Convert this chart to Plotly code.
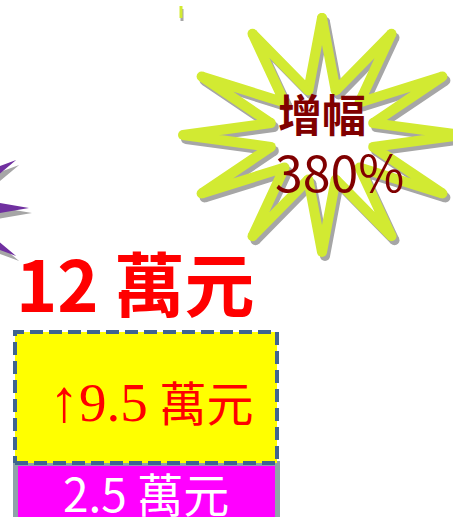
import numpy as np
import plotly.graph_objects as go

# ---- data ----
categories = [0]
base_values = [2.5]        # 2.5 萬元
increase_values = [9.5]    # ↑9.5 萬元
total_values = [b + i for b, i in zip(base_values, increase_values)]  # 12 萬元
growth_label = "380%"

base_text = ["2.5 萬元"]
increase_text = ["<span style='font-size:60px'>↑</span><span style='font-size:55px'>9.5</span> 萬元"]
total_text = ["12 萬元"]

W, H = 453, 517
fig = go.Figure()

# stacked bars (log y-axis so base segment runs off the bottom like the original)
fig.add_trace(go.Bar(x=categories, y=base_values, width=1, marker=dict(color="#FF00FF", line=dict(color="#8FA3A9", width=5)),
                     hoverinfo="skip", showlegend=False))
fig.add_trace(go.Bar(x=categories, y=increase_values, width=1, marker=dict(color="#FFFF00", line=dict(width=0)),
                     hoverinfo="skip", showlegend=False))
# dashed border of increase segment built from data
c = categories[0]
b0, t0 = base_values[0], total_values[0]
fig.add_trace(go.Scatter(x=[c - 0.5, c + 0.5, c + 0.5, c - 0.5, c - 0.5], y=[b0, b0, t0, t0, b0],
                         mode="lines", line=dict(color="#3F6590", width=4, dash="13px,6px"),
                         hoverinfo="skip", showlegend=False, cliponaxis=False))

# ---- decorative stars on overlay pixel axes ----
def star(cx, cy, rx, ry, rxi, ryi, n=12, rot=0.0):
    xs, ys = [], []
    for k in range(2 * n + 1):
        a = np.deg2rad(rot + k * 180.0 / n)
        if k % 2 == 0:
            xs.append(cx + rx * np.sin(a)); ys.append(cy - ry * np.cos(a))
        else:
            xs.append(cx + rxi * np.sin(a)); ys.append(cy - ryi * np.cos(a))
    return xs, ys

# purple star (left, mostly off-canvas)
px, py = star(-67, 208, 96, 96, 39, 39, rot=0)
fig.add_trace(go.Scatter(x=[v + 3 for v in px], y=[v + 5 for v in py], fill="toself", fillcolor="#A6A6A6",
                         mode="lines", line=dict(width=0, color="#A6A6A6"), xaxis="x2", yaxis="y2",
                         hoverinfo="skip", showlegend=False))
fig.add_trace(go.Scatter(x=px, y=py, fill="toself", fillcolor="#7030A0",
                         mode="lines", line=dict(width=0, color="#7030A0"), xaxis="x2", yaxis="y2",
                         hoverinfo="skip", showlegend=False))

# lime star outline
sx, sy = star(322, 135, 139, 117, 53, 46)
for dx, dy, col in [(3, 4, "#A6A6A6"), (0, 0, "#D2EA32")]:
    fig.add_trace(go.Scatter(x=[v + dx for v in sx], y=[v + dy for v in sy], mode="lines+markers",
                             line=dict(color=col, width=10), marker=dict(size=10, color=col),
                             xaxis="x2", yaxis="y2", hoverinfo="skip", showlegend=False))

# small lime tip at top-left
for dx, dy, col in [(1, 3, "#A6A6A6"), (0, 0, "#D2EA32")]:
    fig.add_trace(go.Scatter(x=[181 + dx, 181 + dx], y=[6 + dy, 18 + dy], mode="lines",
                             line=dict(color=col, width=3), xaxis="x2", yaxis="y2",
                             hoverinfo="skip", showlegend=False))

cjk = "Noto Sans CJK TC, Noto Sans, sans-serif"
serif = "Liberation Serif, Noto Sans CJK TC, serif"

annotations = [
    dict(x=c, y=np.log10(total_values[0]), xref="x", yref="y", text=total_text[0], showarrow=False,
         yanchor="bottom", xshift=-11, yshift=-2, font=dict(family=cjk, size=70, color="#FF0000", weight="bold")),
    dict(x=c, y=np.log10(base_values[0] * total_values[0]) / 2, xref="x", yref="y", text=increase_text[0],
         showarrow=False, xshift=5, yshift=-3, font=dict(family=serif, size=47, color="#FF0000")),
    dict(x=c, y=np.log10(base_values[0]), xref="x", yref="y", text=base_text[0], showarrow=False,
         yanchor="top", xshift=0, yshift=6, font=dict(family=cjk, size=46, color="#FFFFFF")),
    dict(x=322, y=113, xref="x2", yref="y2", text="增幅", showarrow=False,
         font=dict(family=cjk, size=44, color="#800000", weight="bold")),
    dict(x=339, y=170, xref="x2", yref="y2", text=growth_label, showarrow=False,
         font=dict(family=cjk, size=50, color="#800000")),
]

# axis geometry: bar from px 15..277, top(12) at y=332, 2.5 at y=463
bar_px = 262.0
left_px = 15.0
x0 = c - 0.5 - left_px / bar_px
x1 = x0 + W / bar_px
ppd = (463 - 332) / (np.log10(total_values[0]) - np.log10(base_values[0]))
ytop = np.log10(total_values[0]) + 332 / ppd
ybot = np.log10(total_values[0]) - (H - 332) / ppd

fig.update_layout(
    width=W, height=H, margin=dict(l=0, r=0, t=0, b=0),
    paper_bgcolor="white", plot_bgcolor="white", barmode="stack",
    xaxis=dict(range=[x0, x1], visible=False, fixedrange=True),
    yaxis=dict(type="log", range=[ybot, ytop], visible=False, fixedrange=True),
    xaxis2=dict(range=[0, W], overlaying="x", visible=False, anchor="y2"),
    yaxis2=dict(range=[H, 0], overlaying="y", visible=False, anchor="x2"),
    annotations=annotations,
)

fig.write_html("out.html")
